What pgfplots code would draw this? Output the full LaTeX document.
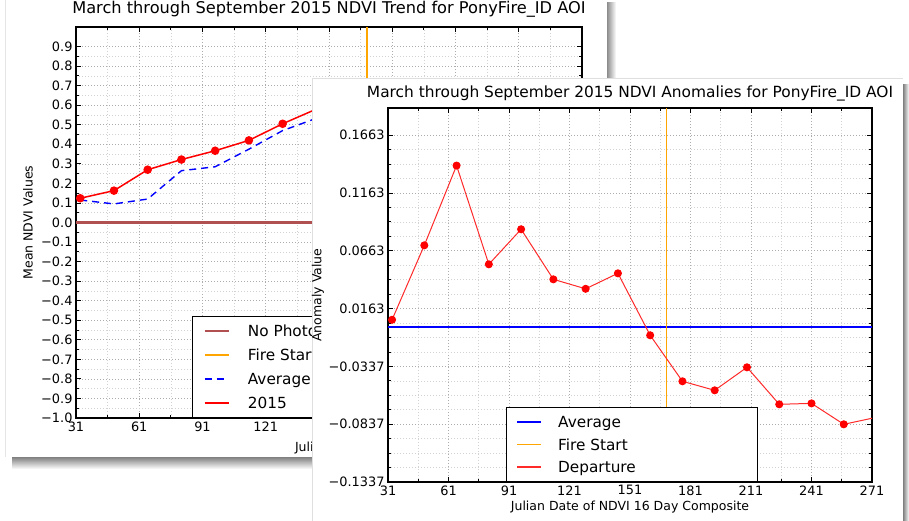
\documentclass[border=0pt]{standalone}
\usepackage{pgfplots}
\pgfplotsset{compat=1.18}
\usepackage{fontspec}
\setmainfont{DejaVu Sans}
\definecolor{nophoto}{HTML}{B05050}
\definecolor{fireorange}{HTML}{FFA500}
\definecolor{avgblue}{HTML}{0000FF}
\definecolor{deproute}{HTML}{FF2A2A}
\newcommand{\titlefont}{\fontsize{15.4pt}{18pt}\selectfont}
\newcommand{\btitlefont}{\fontsize{16.2pt}{18pt}\selectfont}
\newcommand{\tickfont}{\fontsize{12.9pt}{15pt}\selectfont}
\newcommand{\labfont}{\fontsize{12.5pt}{15pt}\selectfont}
\newcommand{\legfont}{\fontsize{15.3pt}{18pt}\selectfont}
\newcommand{\lrow}{\rule{0pt}{11pt}}
\pgfplotsset{
  chartbase/.style={
    scale only axis,
    xmin=31, xmax=271,
    xtick={31,61,91,121,151,181,211,241,271},
    minor x tick num=1,
    grid=both,
    major grid style={gray!65, dash pattern=on 1pt off 2pt, line width=0.6pt},
    minor grid style={gray!35, dash pattern=on 1pt off 2pt, line width=0.6pt},
    axis line style={black, line width=1.2pt},
    tick style={black, line width=0.8pt},
    major tick length=5pt, minor tick length=3pt,
    tick align=inside,
    ticklabel style={font=\tickfont},
    label style={font=\labfont},
    legend cell align=left,
    legend image code/.code={\draw[##1] (0pt,0pt) -- (24pt,0pt);},
  },
}
\begin{document}
\begin{tikzpicture}
\useasboundingbox (0,0) rectangle (909pt,521pt);
\fill[white] (0,0) rectangle (909pt,521pt);
% back panel shadow
\shade[top color=black!50, bottom color=white] (12pt,52pt) rectangle (612pt,64pt);
\shade[left color=black!45, right color=white] (607pt,60pt) rectangle (616pt,518pt);
\fill[white] (5pt,64pt) rectangle (607pt,521pt);
\draw[gray!20, line width=0.5pt] (5pt,64pt) -- (5pt,521pt);
% back chart
\begin{axis}[chartbase,
  at={(76pt,103pt)}, anchor=south west,
  width=506pt, height=391pt,
  ymin=-1, ymax=1,
  xticklabels={31,61,91,121,{},{},{},{},{}},
  ytick={-1.0,-0.9,-0.8,-0.7,-0.6,-0.5,-0.4,-0.3,-0.2,-0.1,0,0.1,0.2,0.3,0.4,0.5,0.6,0.7,0.8,0.9},
  yticklabels={−1.0,−0.9,−0.8,−0.7,−0.6,−0.5,−0.4,−0.3,−0.2,−0.1,0.0,0.1,0.2,0.3,0.4,0.5,0.6,0.7,0.8,0.9},
  minor y tick num=1,
  title={March through September 2015 NDVI Trend for PonyFire\_ID AOI},
  title style={font=\btitlefont, at={(0.5,1)}, anchor=base, yshift=7pt},
  ylabel={Mean NDVI Values},
  ylabel style={at={(axis description cs:-0.095,0.5)}, anchor=center},
  xlabel={Julian Date},
  xlabel style={at={(axis description cs:0.5,-0.077)}, anchor=center},
  legend style={at={(0.229,0)}, anchor=south west, draw=black, line width=1.2pt,
    fill=white, inner xsep=11pt, inner ysep=8.5pt, row sep=12.7pt, column sep=18pt,
    font=\legfont, nodes={inner sep=0pt, text depth=0pt}},
]
\addplot[forget plot, draw=nophoto, line width=2.2pt] coordinates {(31,0) (271,0)};
\addplot[forget plot, draw=fireorange, line width=1.3pt] coordinates {(169,-1) (169,1)};
\addplot[forget plot, draw=avgblue, line width=1.4pt, dash pattern=on 7pt off 5pt] coordinates {
(33,0.115) (49,0.095) (65,0.12) (81,0.265) (97,0.285) (113,0.375) (129,0.47) (145,0.533)};
\addplot[forget plot, draw=red, line width=1.5pt, mark=*, mark size=3.5pt, mark options={solid, fill=red, draw=red}] coordinates {
(33,0.124) (49,0.163) (65,0.27) (81,0.322) (97,0.367) (113,0.42) (129,0.505) (145,0.58)};
\addlegendimage{draw=nophoto, line width=2pt}
\addlegendentry{\makebox[60pt][l]{\lrow No Photo}}
\addlegendimage{draw=fireorange, line width=2pt}
\addlegendentry{\makebox[60pt][l]{\lrow Fire Start}}
\addlegendimage{draw=avgblue, line width=1.6pt, dash pattern=on 7pt off 5pt}
\addlegendentry{\makebox[60pt][l]{\lrow Average}}
\addlegendimage{draw=red, line width=2.4pt}
\addlegendentry{\makebox[60pt][l]{\lrow 2015}}
\end{axis}
% front panel
\shade[left color=black!50, right color=white] (903pt,0pt) rectangle (909pt,436pt);
\fill[white] (312pt,0pt) rectangle (903pt,443pt);
\draw[gray!25, line width=0.6pt] (312pt,0pt) -- (312pt,443pt) -- (903pt,443pt);
\begin{axis}[chartbase,
  at={(388pt,39pt)}, anchor=south west,
  width=484pt, height=374pt,
  ymin=-0.1337, ymax=0.1898,
  xticklabels={31,61,91,121,151,181,211,241,271},
  ytick={-0.1337,-0.0837,-0.0337,0.0163,0.0663,0.1163,0.1663},
  yticklabels={−0.1337,−0.0837,−0.0337,0.0163,0.0663,0.1163,0.1663},
  minor y tick num=3,
  title={March through September 2015 NDVI Anomalies for PonyFire\_ID AOI},
  title style={font=\titlefont, at={(0.5,1)}, anchor=base, yshift=4.5pt},
  ylabel={Anomaly Value},
  ylabel style={at={(axis description cs:-0.1446,0.5)}, anchor=center},
  xlabel={Julian Date of NDVI 16 Day Composite},
  xlabel style={at={(axis description cs:0.5,-0.0668)}, anchor=center},
  legend style={at={(0.2438,0)}, anchor=south west, draw=black, line width=1.2pt,
    fill=white, inner xsep=10pt, inner ysep=9pt, row sep=11pt, column sep=16pt,
    font=\legfont, nodes={inner sep=0pt, text depth=0pt}},
]
\addplot[forget plot, draw=avgblue, line width=2pt] coordinates {(31,0) (271,0)};
\addplot[forget plot, draw=fireorange, line width=1.3pt] coordinates {(169,-0.1337) (169,0.1898)};
\addplot[forget plot, draw=deproute, line width=1pt, mark=*, mark size=3.5pt, mark options={fill=red, draw=red}] coordinates {
(33,0.0066) (49,0.071) (65,0.140) (81,0.0546) (97,0.0849) (113,0.0416) (129,0.0334) (145,0.0468)
(161,-0.0068) (177,-0.0466) (193,-0.0544) (209,-0.0345) (225,-0.0665) (241,-0.0657) (257,-0.0838) (273,-0.0778)};
\addlegendimage{draw=avgblue, line width=1.6pt}
\addlegendentry{\makebox[189pt][l]{\lrow Average}}
\addlegendimage{draw=fireorange, line width=1.6pt}
\addlegendentry{\makebox[189pt][l]{\lrow Fire Start}}
\addlegendimage{draw=deproute, line width=1.6pt}
\addlegendentry{\makebox[189pt][l]{\lrow Departure}}
\end{axis}
\end{tikzpicture}
\end{document}
